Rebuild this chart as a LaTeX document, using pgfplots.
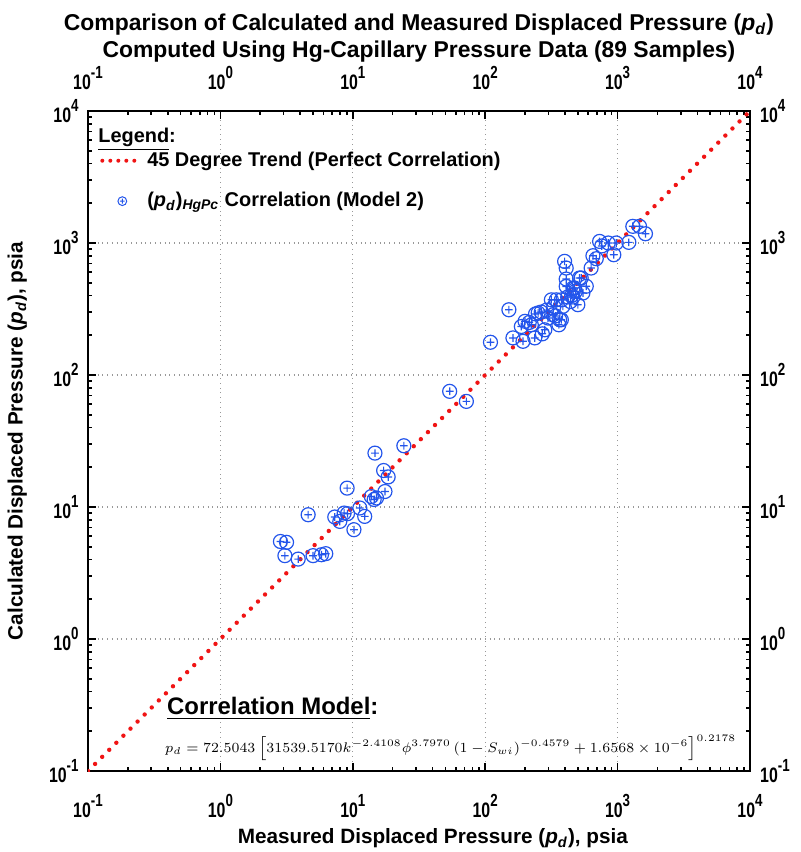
\documentclass[border=0pt]{standalone}
\usepackage{fontspec}
\newfontfamily\arial{Liberation Sans}
\usepackage{pgfplots}
\pgfplotsset{compat=1.18}

\definecolor{mkblue}{RGB}{35,85,235}
\definecolor{trendred}{RGB}{240,20,20}

% circle with a short cross inside
\pgfdeclareplotmark{cplus}{%
  \pgfpathcircle{\pgfpointorigin}{\pgfplotmarksize}%
  \pgfpathmoveto{\pgfpoint{-0.55\pgfplotmarksize}{0pt}}%
  \pgfpathlineto{\pgfpoint{0.55\pgfplotmarksize}{0pt}}%
  \pgfpathmoveto{\pgfpoint{0pt}{-0.55\pgfplotmarksize}}%
  \pgfpathlineto{\pgfpoint{0pt}{0.55\pgfplotmarksize}}%
  \pgfusepathqstroke}

\newcommand{\pd}{\textit{p}\textsubscript{\textit{d}}}
\newcommand{\tl}[1]{10\raisebox{5.3bp}{\fontsize{8.8}{9}\selectfont#1}}

\begin{document}
\begin{tikzpicture}
\useasboundingbox (-44bp,-40.5bp) rectangle (356.5bp,385.5bp);
\begin{axis}[
  xmode=log, ymode=log,
  width=331bp, height=330bp, scale only axis,
  xmin=0.1, xmax=10000, ymin=0.1, ymax=10000,
  xtick={0.1,1,10,100,1000,10000},
  ytick={0.1,1,10,100,1000,10000},
  xticklabels={\tl{-1},\tl{0},\tl{1},\tl{2},\tl{3},\tl{4}},
  yticklabels={\tl{-1},\tl{0},\tl{1},\tl{2},\tl{3},\tl{4}},
  tick label style={font=\arial\bfseries\fontsize{10.5}{12}\selectfont, inner sep=0pt, xscale=0.76},
  xticklabel style={yshift=-11.5bp},
  yticklabel style={xshift=-6bp},
  minor xtick={0.2,0.3,0.4,0.5,0.6,0.7,0.8,0.9,2,3,4,5,6,7,8,9,20,30,40,50,60,70,80,90,200,300,400,500,600,700,800,900,2000,3000,4000,5000,6000,7000,8000,9000},
  minor ytick={0.2,0.3,0.4,0.5,0.6,0.7,0.8,0.9,2,3,4,5,6,7,8,9,20,30,40,50,60,70,80,90,200,300,400,500,600,700,800,900,2000,3000,4000,5000,6000,7000,8000,9000},
  tick align=inside, tick pos=both,
  major tick length=4bp, minor tick length=2.2bp,
  every tick/.style={black, line width=0.8bp},
  xmajorgrids, ymajorgrids,
  major grid style={gray!80, dotted, line width=0.6bp},
  axis line style={line width=1.3bp},
  xlabel={Measured Displaced Pressure (\pd), psia},
  ylabel={Calculated Displaced Pressure (\pd), psia},
  label style={font=\arial\bfseries\fontsize{10.4}{12}\selectfont, inner sep=0pt},
  xlabel style={at={(axis description cs:0.521,-0.102)}, anchor=center},
  ylabel style={at={(axis description cs:-0.107,0.5)}, anchor=center},
  legend style={at={(rel axis cs:0.018,0.943)}, anchor=north west,
    draw=none, fill=none, inner sep=0pt, row sep=8.5bp,
    nodes={inner sep=1.5bp},
    font=\arial\bfseries\fontsize{10}{12}\selectfont,
    cells={anchor=west}},
]
\addplot[trendred, line width=2.2bp, line cap=round, dash pattern=on 0pt off 5bp,
  legend image code/.code={\draw[trendred, line width=2bp, line cap=round, dash pattern=on 0pt off 4bp] (0bp,0bp) -- (20bp,0bp);}]
  coordinates {(0.1,0.1) (10000,10000)};
\addlegendentry{45 Degree Trend (Perfect Correlation)}

\addplot[only marks, mark=cplus, mark size=3.5bp, mkblue, line width=0.6bp,
  legend image code/.code={\draw[mkblue, line width=0.5bp, mark=cplus, mark size=2.2bp] plot coordinates {(10bp,0bp)};}]
  coordinates {
  (24.3,29.1) (14.7,25.6) (17.1,18.9) (18.5,16.9) (9.06,13.9) (17.5,13.1)
  (15.1,11.7) (13.8,12.0) (11.3,9.83) (12.3,8.49) (9.12,8.9) (7.31,8.4)
  (7.98,7.78) (10.2,6.73) (4.6,8.74) (2.84,5.48) (3.16,5.4) (3.07,4.28)
  (3.87,4.03) (5.01,4.28) (5.8,4.35) (6.25,4.43) (8.6,9.0) (14.5,11.4)
  (53.9,75.2) (72.1,63.1)
  (109.6,177) (151,312) (162,191) (193,180) (187.5,233) (223,240)
  (237,191) (251,295) (282,220) (298,270) (325,286) (365,262)
  (316,371) (344,371) (386,331) (501,341) (409,469) (473,456)
  (547,418) (409,533) (531,543) (398,726) (409,646) (631,646)
  (651,801) (731,1028) (977,1000) (936,815) (1216,1011) (1303,1337)
  (1623,1175) (1465,1337) (516,543) (376,371) (376,262) (461,456)
  (200,255) (215,250) (240,290) (265,300) (290,310) (340,280)
  (360,240) (450,400) (460,390) (480,430) (420,390) (270,205)
  (330,330) (440,360) (580,470) (690,760) (850,1000) (760,950)
  };
\addlegendentry{(\pd)\textsubscript{\textit{HgPc}} Correlation (Model 2)}

\node[anchor=west, inner sep=0pt, font=\arial\bfseries\fontsize{10}{12}\selectfont]
  at (rel axis cs:0.015,0.957) {\underline{Legend}:};
\node[anchor=base west, inner sep=0pt, font=\arial\bfseries\fontsize{12}{14}\selectfont]
  at (rel axis cs:0.119,0.085) {\underline{Correlation Model}:};
\node[anchor=west, inner sep=0pt, font=\fontsize{7.5}{9}\selectfont]
  at (rel axis cs:0.116,0.035)
  {$p_d = 72.5043\left[31539.5170k^{-2.4108}\phi^{3.7970}\left(1-S_{wi}\right)^{-0.4579}+1.6568\times10^{-6}\right]^{0.2178}$};
\end{axis}

\begin{axis}[
  xmode=log, ymode=log,
  width=331bp, height=330bp, scale only axis,
  xmin=0.1, xmax=10000, ymin=0.1, ymax=10000,
  xtick={0.1,1,10,100,1000,10000},
  ytick={0.1,1,10,100,1000,10000},
  xticklabels={\tl{-1},\tl{0},\tl{1},\tl{2},\tl{3},\tl{4}},
  yticklabels={\tl{-1},\tl{0},\tl{1},\tl{2},\tl{3},\tl{4}},
  tick label style={font=\arial\bfseries\fontsize{10.5}{12}\selectfont, inner sep=0pt, xscale=0.76},
  xticklabel pos=right, yticklabel pos=right,
  xticklabel style={yshift=10.5bp},
  yticklabel style={xshift=6.5bp},
  axis line style={draw=none},
  major tick length=0pt, minor tick length=0pt,
  clip=false,
]
\node[anchor=south, inner sep=0pt, align=center, font=\arial\bfseries\fontsize{11.5}{13.5}\selectfont]
  at (rel axis cs:0.5,1) [yshift=24bp]
  {Comparison of Calculated and Measured Displaced Pressure (\pd)\\Computed Using Hg-Capillary Pressure Data (89 Samples)};
\end{axis}
\end{tikzpicture}
\end{document}
